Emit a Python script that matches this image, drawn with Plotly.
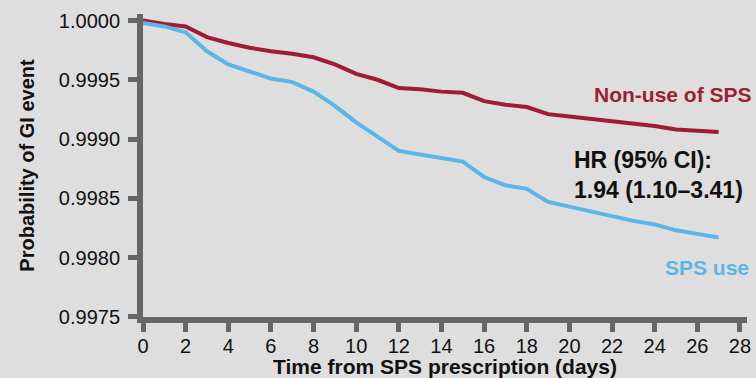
import plotly.graph_objects as go

days = list(range(0, 28))
non_use = [1.00000, 0.99997, 0.99995, 0.99986, 0.99981, 0.99977, 0.99974, 0.99972,
           0.99969, 0.99963, 0.99955, 0.99950, 0.99943, 0.99942, 0.99940, 0.99939,
           0.99932, 0.99929, 0.99927, 0.99921, 0.99919, 0.99917, 0.99915, 0.99913,
           0.99911, 0.99908, 0.99907, 0.99906]
sps_use = [0.99998, 0.99995, 0.99990, 0.99974, 0.99963, 0.99957, 0.99951, 0.99948,
           0.99940, 0.99928, 0.99914, 0.99902, 0.99890, 0.99887, 0.99884, 0.99881,
           0.99868, 0.99861, 0.99858, 0.99847, 0.99843, 0.99839, 0.99835, 0.99831,
           0.99828, 0.99823, 0.99820, 0.99817]
x_ticks = list(range(0, 29, 2))
y_ticks = [0.9975, 0.9980, 0.9985, 0.9990, 0.9995, 1.0000]
y_tick_text = ["0.9975", "0.9980", "0.9985", "0.9990", "0.9995", "1.0000"]

RED = "#9e1c35"
BLUE = "#5ab6e6"
AXIS = "#666666"
BG = "#dedede"
FONT = "Liberation Sans, Arial, sans-serif"

fig = go.Figure()
fig.add_trace(go.Scatter(x=days, y=non_use, mode="lines",
                         line=dict(color=RED, width=4), showlegend=False))
fig.add_trace(go.Scatter(x=days, y=sps_use, mode="lines",
                         line=dict(color=BLUE, width=4), showlegend=False))

fig.update_layout(
    width=756, height=378,
    margin=dict(l=143, r=9, t=14, b=61),
    paper_bgcolor=BG, plot_bgcolor=BG,
    font=dict(family=FONT, color="#111111"),
    xaxis=dict(range=[0, 28.33], tickvals=x_ticks, showgrid=False, zeroline=False,
               automargin=False,
               showline=True, linecolor=AXIS, linewidth=6,
               ticks="outside", ticklen=9, tickwidth=5, tickcolor=AXIS,
               ticklabelstandoff=-3,
               tickfont=dict(size=20, family=FONT, color="#111111"),
               title=dict(text="<b>Time from SPS prescription (days)</b>",
                          font=dict(size=21, family=FONT, color="#111111"), standoff=12)),
    yaxis=dict(range=[0.997499, 1.0000548], tickvals=y_ticks, ticktext=y_tick_text,
               showgrid=False, zeroline=False, automargin=False,
               showline=True, linecolor=AXIS, linewidth=6,
               ticks="outside", ticklen=9, tickwidth=5, tickcolor=AXIS,
               ticklabelstandoff=4,
               tickfont=dict(size=20, family=FONT, color="#111111"),
               title=dict(text="<b>Probability of GI event</b>",
                          font=dict(size=20, family=FONT, color="#111111"), standoff=21)),
)

fig.add_annotation(xref="paper", yref="paper", x=1.0116, y=0.7327,
                   xanchor="right", yanchor="middle", showarrow=False,
                   text="<b>Non-use of SPS</b>", font=dict(size=21, family=FONT, color=RED))
fig.add_annotation(xref="paper", yref="paper", x=1.0066, y=0.165,
                   xanchor="right", yanchor="middle", showarrow=False,
                   text="<b>SPS use</b>", font=dict(size=21, family=FONT, color=BLUE))
fig.add_annotation(xref="paper", yref="paper", x=0.7098, y=0.4686,
                   xanchor="left", yanchor="middle", showarrow=False, align="left",
                   text="<b>HR (95% CI):</b><br><b>1.94 (1.10\u20133.41)</b>",
                   font=dict(size=23, family=FONT, color="#111111"))

fig.write_html("out.html")
